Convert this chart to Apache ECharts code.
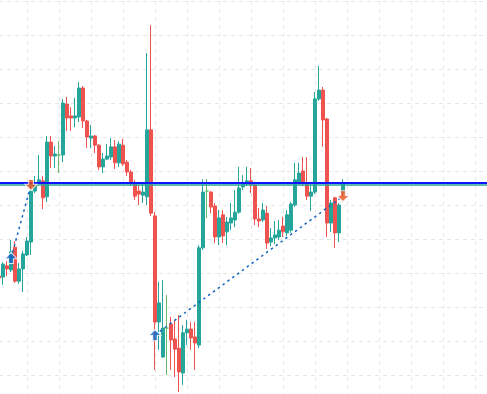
<!DOCTYPE html>
<html>
<head>
<meta charset="utf-8">
<script src="https://cdn.jsdelivr.net/npm/echarts@6/dist/echarts.min.js"></script>
<style>
html,body{margin:0;padding:0;background:#fff;}
#chart{width:487px;height:394px;}
</style>
</head>
<body>
<div id="chart"></div>
<script>
// Bars (categories). The visible window holds 123 bar slots; the last ones are still empty.
const categories = Array.from({length: 123}, (_, i) => 'Bar ' + (i + 1));

const opens = [
  39.1,38.8,42.1,40.9,47.6,37.6,41.2,45.3,49.1,64.1,
  66.8,67.1,62.4,78.5,74.4,74.7,74.7,89.7,86.2,85.6,
  85.9,94.4,84.7,79.7,80.3,77.6,71.2,73.5,74.1,77.1,
  72.4,77.6,72.6,69.7,66.5,64.1,62.9,62.4,82.1,56.8,
  25.6,15.3,23.8,25.0,20.6,17.9,10.6,22.4,23.5,21.2,
  18.8,47.4,64.1,63.8,59.7,50.6,57.1,52.1,54.7,55.6,
  57.9,65.3,66.2,67.1,65.9,55.9,55.6,57.6,49.1,50.3,
  50.6,53.8,51.8,52.6,60.0,66.8,70.0,66.5,62.6,63.8,
  91.2,93.8,85.3,54.7,62.1,51.8,63.8
];
const closes = [
  38.5,42.6,41.2,46.2,37.6,41.2,45.6,49.4,64.1,66.5,
  67.4,62.1,78.5,74.4,75.0,74.7,90.0,85.6,85.6,86.2,
  94.4,84.7,80.0,80.3,77.6,71.2,73.5,74.4,77.1,72.4,
  77.9,72.1,69.7,66.5,62.6,63.2,63.8,82.1,57.6,25.6,
  31.2,23.8,23.8,20.3,17.6,10.9,22.4,23.5,20.9,19.4,
  47.4,63.8,64.1,59.4,50.6,56.2,50.9,55.0,56.2,57.9,
  65.0,66.5,67.1,65.9,55.9,55.3,58.5,48.8,50.3,51.2,
  52.6,52.1,57.1,60.3,67.4,69.4,66.5,62.6,63.8,91.2,
  93.8,85.0,54.7,60.6,51.8,60.0,66.5
];
const lows = [
  38.2,36.5,39.1,40.3,37.1,36.8,34.4,45.0,45.3,63.5,
  66.2,58.8,60.9,70.9,70.9,69.4,72.6,81.8,81.8,82.9,
  84.4,82.6,76.8,76.8,75.3,70.3,69.4,73.2,73.2,70.6,
  71.2,71.5,68.5,65.6,61.5,60.0,60.6,60.0,56.8,11.5,
  17.4,15.0,10.0,11.5,9.4,5.0,7.1,18.8,17.4,11.5,
  17.9,46.8,56.2,57.6,48.8,48.2,48.8,48.2,52.6,53.5,
  57.4,64.4,65.6,63.5,54.1,53.5,55.0,47.1,47.9,48.5,
  49.7,50.6,50.9,51.8,59.4,65.9,65.6,61.5,58.2,63.2,
  90.6,77.1,50.6,52.1,47.4,49.1,62.6
];
const highs = [
  39.4,43.2,43.5,49.7,49.4,42.9,46.5,50.6,65.0,68.5,
  74.7,68.5,80.3,80.3,77.4,78.8,91.2,91.8,88.8,91.5,
  96.2,95.0,85.0,83.5,80.6,77.9,75.3,77.9,79.7,79.1,
  78.8,79.4,73.2,70.3,67.4,65.9,66.2,104.7,112.9,57.9,
  37.4,37.9,33.5,27.1,26.2,27.6,24.7,26.2,25.6,25.6,
  48.2,67.6,67.6,64.1,60.6,58.5,58.5,56.5,60.6,64.4,
  71.2,68.8,71.2,70.9,66.5,59.1,60.6,59.7,53.2,55.3,
  55.6,56.5,58.5,60.9,72.4,72.4,74.1,74.1,66.5,93.2,
  100.9,94.7,85.6,61.5,62.4,60.6,67.6
];

// Horizontal levels
const blueLevel = 66.68;
const tealLevel = 66.06;

// Signals: [bar index, price]
const buySignals = [[3, 44.4], [39, 21.8]];
const sellSignals = [[8, 65.9], [86, 62.6]];
// Dashed trade links: buy -> sell
const tradeLinks = [
  [[3, 44.4], [8, 65.9]],
  [[39, 21.8], [86, 62.6]]
];

// Y axis
const yMin = 0, yMax = 120, yStep = 10;

const candleData = opens.map((o, i) => [o, closes[i], lows[i], highs[i]]);

const chart = echarts.init(document.getElementById('chart'), null, {renderer: 'canvas'});

const gridLine = {show: true, lineStyle: {color: '#e6e6e6', type: [4, 4], width: 1}};

const series = [{
  type: 'candlestick',
  data: candleData,
  barWidth: 3,
  z: 2,
  itemStyle: {
    color: '#26a69a', color0: '#ef5350',
    borderColor: '#26a69a', borderColor0: '#ef5350',
    borderColorDoji: '#66bb6a',
    borderWidth: 1
  },
  markLine: {
    silent: true,
    symbol: 'none',
    label: {show: false},
    z: 3,
    data: [
      {yAxis: tealLevel, lineStyle: {color: '#26a69a', width: 1.6, type: 'solid'}},
      {yAxis: blueLevel, lineStyle: {color: '#0a14ff', width: 2, type: 'solid'}}
    ]
  }
}];

tradeLinks.forEach(link => {
  series.push({
    type: 'line',
    data: link,
    symbol: 'none',
    z: 4,
    silent: true,
    lineStyle: {color: '#1565c0', width: 1.5, type: [2.5, 3.5]}
  });
});

series.push({
  type: 'scatter',
  data: buySignals,
  z: 6,
  symbol: 'path://M5,0 L10,5 L7,5 L7,9 L3,9 L3,5 L0,5 Z',
  symbolSize: [12, 11],
  itemStyle: {color: '#1565c0', borderColor: '#ffffff', borderWidth: 1}
});
series.push({
  type: 'scatter',
  data: sellSignals,
  z: 6,
  symbol: 'path://M3,0 L7,0 L7,4 L10,4 L5,9 L0,4 L3,4 Z',
  symbolSize: [12, 11],
  itemStyle: {color: '#e8501e', borderColor: '#ffffff', borderWidth: 1}
});

chart.setOption({
  animation: false,
  backgroundColor: '#ffffff',
  grid: {left: -1, top: 1, width: 488, height: 408, containLabel: false, outerBoundsMode: 'none'},
  xAxis: {
    type: 'category',
    data: categories,
    boundaryGap: false,
    axisLine: {show: false},
    axisTick: {show: false},
    axisLabel: {show: false},
    splitLine: Object.assign({interval: function (index) { return index % 8 === 7; }}, gridLine)
  },
  yAxis: {
    type: 'value',
    min: yMin, max: yMax, interval: yStep,
    axisLine: {show: false},
    axisTick: {show: false},
    axisLabel: {show: false},
    splitLine: gridLine
  },
  series: series
});
</script>
</body>
</html>
